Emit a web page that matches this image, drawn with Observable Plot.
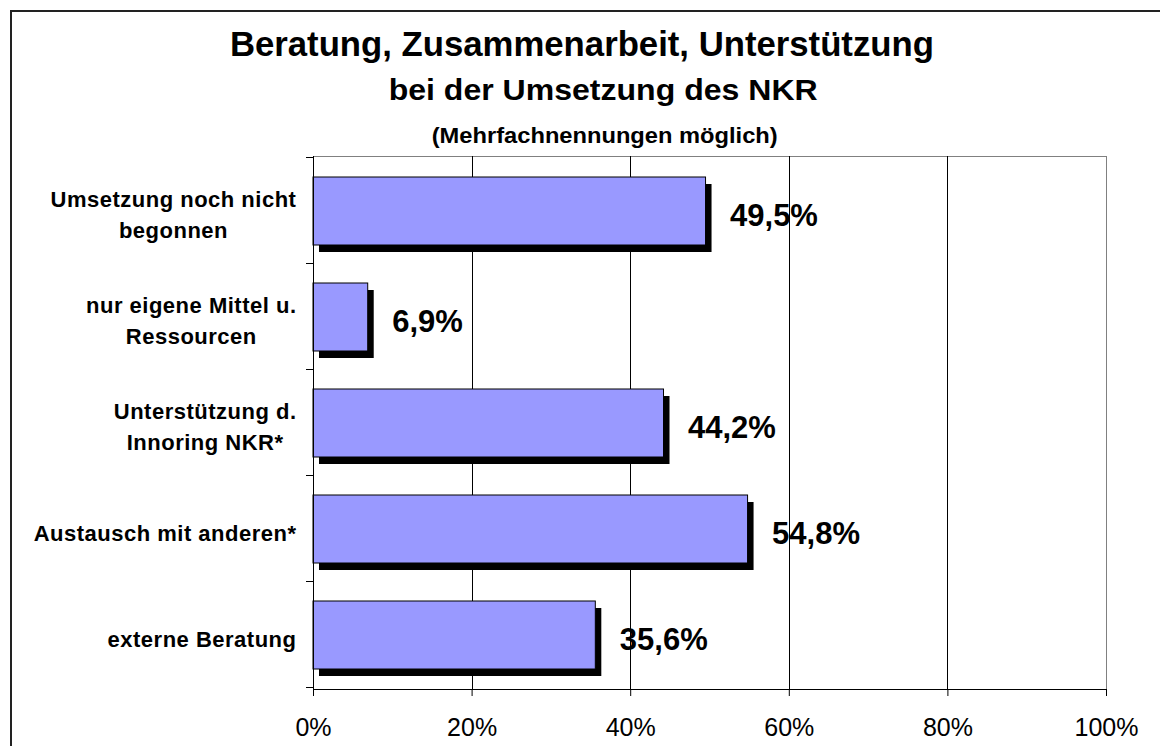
<!DOCTYPE html>
<html><head><meta charset="utf-8">
<script src="https://cdn.jsdelivr.net/npm/d3@7"></script>
<script src="https://cdn.jsdelivr.net/npm/@observablehq/plot@0.6"></script>
<style>
html,body{margin:0;padding:0;background:#fff;overflow:hidden;width:1160px;height:746px;}
#frame{position:absolute;left:10px;top:10px;width:1200px;height:800px;border:2px solid #222;box-sizing:border-box;}
.hd{position:absolute;width:800px;text-align:center;font-family:"Liberation Sans",Arial,sans-serif;font-weight:bold;color:#000;line-height:1;white-space:nowrap;}
.hd span{display:inline-block;transform-origin:center;}
#chart{position:absolute;left:0;top:140px;}
.cat-label text{letter-spacing:0.5px;}
</style></head><body>
<div id="frame"></div>
<div class="hd" id="t1" style="left:182px;top:26px;font-size:35px"><span id="s1"></span></div>
<div class="hd" id="t2" style="left:203px;top:76px;font-size:29px"><span id="s2"></span></div>
<div class="hd" id="t3" style="left:205px;top:125px;font-size:22px"><span id="s3"></span></div>
<div id="chart"></div>
<script>
const titleText = "Beratung, Zusammenarbeit, Unterstützung";
const subtitleText = "bei der Umsetzung des NKR";
const noteText = "(Mehrfachnennungen möglich)";
const categories = ["Umsetzung noch nicht\nbegonnen", "nur eigene Mittel u.\nRessourcen", "Unterstützung d.\nInnoring NKR*", "Austausch mit anderen*", "externe Beratung"];
const values = [0.495, 0.069, 0.442, 0.548, 0.356];
const valueLabels = ["49,5%", "6,9%", "44,2%", "54,8%", "35,6%"];
const xTicks = [0, 0.2, 0.4, 0.6, 0.8, 1];
const xTickLabels = ["0%", "20%", "40%", "60%", "80%", "100%"];

function setHeader(id, text, targetWidth) {
  const s = document.getElementById(id);
  s.textContent = text;
  const w = s.getBoundingClientRect().width;
  s.style.transform = `scaleX(${targetWidth / w})`;
}
setHeader("s1", titleText, 704);
setHeader("s2", subtitleText, 429);
setHeader("s3", noteText, 346);

const data = categories.map((c, i) => ({category: c, value: values[i], label: valueLabels[i]}));
const PAD_INNER = 0.36;

function yBoundaries(index, scales, values, dims) {
  const y = scales.y;
  const step = y(categories[1]) - y(categories[0]);
  const g = d3.create("svg:g").attr("stroke", "black").attr("stroke-width", 1).attr("shape-rendering", "crispEdges");
  const x0 = dims.marginLeft;
  const bounds = categories.map(c => y(c) - step * PAD_INNER / 2);
  bounds.push(y(categories[categories.length - 1]) + step * (1 - PAD_INNER / 2));
  for (const b of bounds) {
    g.append("line").attr("x1", x0 - 7).attr("x2", x0).attr("y1", b).attr("y2", b);
  }
  const yb = dims.height - dims.marginBottom;
  g.append("line").attr("x1", x0).attr("x2", dims.width - dims.marginRight).attr("y1", yb).attr("y2", yb);
  return g.node();
}

const chart = Plot.plot({
  width: 1160,
  height: 606,
  marginLeft: 313,
  marginRight: 54,
  marginTop: 16,
  marginBottom: 57,
  style: {fontFamily: "'Liberation Sans', Arial, sans-serif", background: "transparent", color: "black"},
  x: {domain: [0, 1], label: null},
  y: {domain: categories, paddingInner: PAD_INNER, paddingOuter: PAD_INNER / 2, axis: null, label: null},
  marks: [
    Plot.frame({stroke: "#808080"}),
    Plot.ruleX(xTicks.filter(d => d > 0 && d < 1), {stroke: "black", strokeWidth: 1, shapeRendering: "crispEdges"}),
    Plot.barX(data, {x: "value", y: "category", fill: "black", dx: 6, dy: 7}),
    Plot.barX(data, {x: "value", y: "category", fill: "#9999ff", stroke: "black", strokeWidth: 1}),
    Plot.ruleX([0], {stroke: "black", strokeWidth: 1, shapeRendering: "crispEdges"}),
    yBoundaries,
    Plot.axisX({ticks: xTicks, tickFormat: d => xTickLabels[xTicks.indexOf(d)], tickSize: 7, tickPadding: 22, fontSize: 25, stroke: "black", fill: "black", label: null}),
    Plot.text(data, {frameAnchor: "left", y: "category", text: "category", textAnchor: "end", dx: -17, dy: 1, fontSize: 22, fontWeight: "bold", lineHeight: 1.44, fill: "black", className: "cat-label"}),
    Plot.text(data, {x: "value", y: "category", text: "label", textAnchor: "start", dx: 24, dy: 5, fontSize: 31, fontWeight: "bold", fill: "black"})
  ]
});
document.getElementById("chart").append(chart);

// center the lines of each category label within its right-aligned block
chart.querySelectorAll(".cat-label text").forEach(t => {
  const w = t.getBBox().width;
  t.setAttribute("text-anchor", "middle");
  const tr = t.getAttribute("transform") || "";
  t.setAttribute("transform", `${tr} translate(${-w / 2},0)`);
});
</script>
</body></html>
